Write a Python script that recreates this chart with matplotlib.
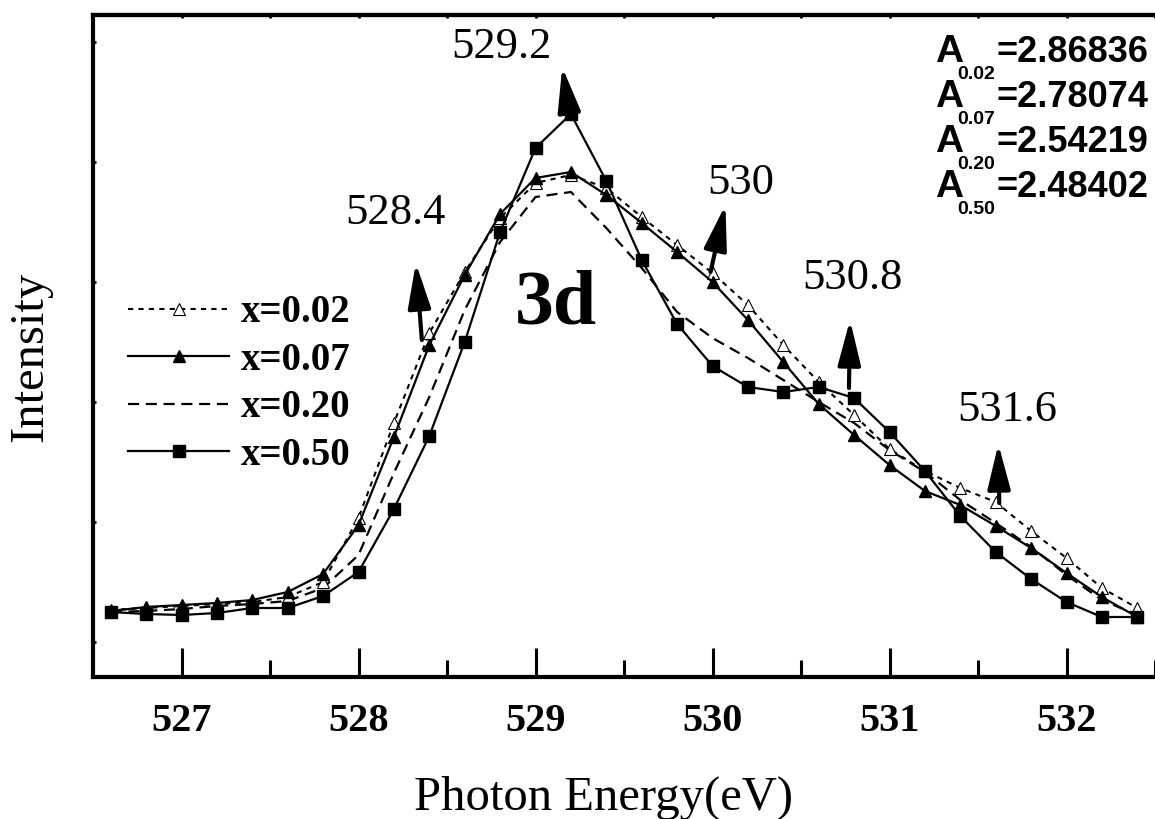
import matplotlib
matplotlib.use("Agg")
import matplotlib.pyplot as plt
import numpy as np
from matplotlib.lines import Line2D

# photon energy grid (eV) and intensities (arb. units, baseline ~0)
energy = np.round(np.arange(526.6, 532.41, 0.2), 1)
x002 = [0.4, 0.8, 1.2, 1.6, 2.0, 3.0, 6.0, 18.8, 37.8, 55.8, 68.0, 78.8, 85.8, 87.4, 84.8,
        79.0, 73.4, 67.8, 61.4, 53.4, 46.0, 39.4, 32.6, 28.2, 24.8, 22.0, 16.2, 10.8, 4.8, 0.8]
x007 = [0.2, 1.0, 1.4, 1.8, 2.4, 4.0, 7.6, 17.4, 35.0, 53.4, 67.4, 79.6, 86.8, 88.0, 83.4,
        77.8, 72.0, 66.0, 58.4, 50.0, 41.6, 35.4, 29.4, 24.2, 21.4, 17.2, 12.8, 7.8, 3.0, -1.0]
x020 = [0.0, 0.2, 0.6, 1.2, 1.6, 2.2, 4.8, 11.4, 27.8, 43.0, 60.4, 74.0, 83.0, 84.0, 76.8,
        68.8, 60.0, 54.8, 50.8, 46.4, 42.0, 37.8, 32.4, 28.0, 22.4, 17.8, 13.0, 7.4, 2.4, -0.6]
x050 = [0.0, -0.4, -0.6, -0.2, 0.8, 0.8, 3.2, 8.0, 20.6, 35.2, 54.0, 76.0, 92.8, 99.6, 86.2,
        70.4, 57.6, 49.2, 45.0, 44.0, 45.0, 42.8, 36.0, 28.2, 19.2, 12.0, 6.6, 2.0, -1.0, -1.0]

labels = ["x=0.02", "x=0.07", "x=0.20", "x=0.50"]

# peak markers: label, text pos, arrow tail, arrow head
peak_labels = ["528.4", "529.2", "530", "530.8", "531.6"]
peak_text = [(528.207, 79.8), (528.81, 113.0), (530.16, 85.8), (530.793, 66.8), (531.665, 40.4)]
peak_tail = [(528.358, 54.4), (529.19, 100.0), (529.989, 68.0), (530.771, 44.8), (531.62, 21.8)]
peak_head = [(528.324, 69.8), (529.151, 109.0), (530.073, 81.4), (530.777, 58.4), (531.615, 33.6)]

area_keys = ["0.02", "0.07", "0.20", "0.50"]
area_vals = ["2.86836", "2.78074", "2.54219", "2.48402"]

W, H = 1155, 819
fig = plt.figure(figsize=(W / 100, H / 100), dpi=100)
ax = fig.add_axes([93 / W, 142 / H, 1062 / W, 662 / H])

serif = "Liberation Serif"
sans = "Liberation Sans"

ax.plot(energy, x002, color="black", lw=1.5, linestyle=(0, (2.5, 2.5)), marker="^",
        markersize=9, markerfacecolor="white", markeredgecolor="black", markeredgewidth=0.8, zorder=3)
ax.plot(energy, x007, color="black", lw=1.6, linestyle="-", marker="^",
        markersize=9, markerfacecolor="black", markeredgecolor="black", zorder=4)
ax.plot(energy, x020, color="black", lw=1.6, linestyle=(0, (5, 3)), zorder=2)
ax.plot(energy, x050, color="black", lw=1.6, linestyle="-", marker="s",
        markersize=8, markerfacecolor="black", markeredgecolor="black", zorder=5)

ax.set_xlim(526.5, 532.45)
ax.set_ylim(-13, 119.4)

ax.set_xticks(np.arange(527, 533, 1))
ax.set_xticks(np.arange(527.5, 532.6, 1), minor=True)
ax.set_yticks(np.arange(-6, 120, 24))
ax.tick_params(axis="x", which="major", direction="in", length=21, width=2.2, pad=19,
               labelsize=29)
ax.tick_params(axis="x", which="minor", direction="in", length=12, width=2.2)
ax.tick_params(axis="y", direction="in", length=2.5, width=2, labelleft=False)
for lab in ax.get_xticklabels():
    lab.set_fontfamily(serif)
    lab.set_fontweight("bold")

for s in ["left", "bottom", "top"]:
    ax.spines[s].set_linewidth(3)
ax.spines["right"].set_visible(False)

top = ax.secondary_xaxis("top")
top.set_xticks(np.arange(527, 532.6, 0.5))
top.tick_params(direction="in", length=2.5, width=2, labeltop=False)
top.spines["top"].set_linewidth(3)

# legend
handles = [
    Line2D([], [], color="black", lw=1.5, linestyle=(0, (2.5, 2.5)), marker="^", markersize=9,
           markerfacecolor="white", markeredgecolor="black", markeredgewidth=0.8),
    Line2D([], [], color="black", lw=1.6, marker="^", markersize=9, markerfacecolor="black"),
    Line2D([], [], color="black", lw=1.6, linestyle=(0, (5, 3))),
    Line2D([], [], color="black", lw=1.6, marker="s", markersize=8, markerfacecolor="black"),
]
ax.legend(handles, labels, loc="upper left", bbox_to_anchor=(0.033, 0.578), frameon=False,
          prop={"family": serif, "weight": "bold", "size": 28}, handlelength=2.6,
          handletextpad=0.3, borderpad=0, borderaxespad=0, labelspacing=0.27, numpoints=1)

# peak annotations
for lab, tp, tl, hd in zip(peak_labels, peak_text, peak_tail, peak_head):
    ax.text(tp[0], tp[1], lab, ha="center", va="center", fontsize=32, family=serif)
    ax.annotate("", xy=hd, xytext=tl,
                arrowprops=dict(arrowstyle="-|>,head_length=1.1,head_width=0.28",
                                mutation_scale=25, lw=3, color="black",
                                shrinkA=0, shrinkB=0))

ax.text(529.117, 61.4, "3d", ha="center", va="center", fontsize=56, family=serif,
        fontweight="bold")

# area values, top right
renderer = fig.canvas.get_renderer()
for i, (k, v) in enumerate(zip(area_keys, area_vals)):
    yb = 1 - (62 + 45 * i) / H
    tv = fig.text(1148 / W, yb, "=" + v, ha="right", va="baseline", fontsize=26,
                  family=sans, fontweight="bold")
    bb = tv.get_window_extent(renderer)
    ts = fig.text((bb.x0 - 1) / W, yb - 17 / H, k, ha="right", va="baseline", fontsize=14,
                  family=sans, fontweight="bold")
    bs = ts.get_window_extent(renderer)
    fig.text((bs.x0 + 6) / W, yb, "A", ha="right", va="baseline", fontsize=28,
             family=sans, fontweight="bold")

fig.text(604 / W, 1 - 798 / H, "Photon Energy(eV)", ha="center", va="center", fontsize=35,
         family=serif)
fig.text(30 / W, 1 - 357 / H, "Intensity", ha="center", va="center", rotation=90,
         fontsize=35, family=serif)

fig.savefig("out.png", dpi=100)
